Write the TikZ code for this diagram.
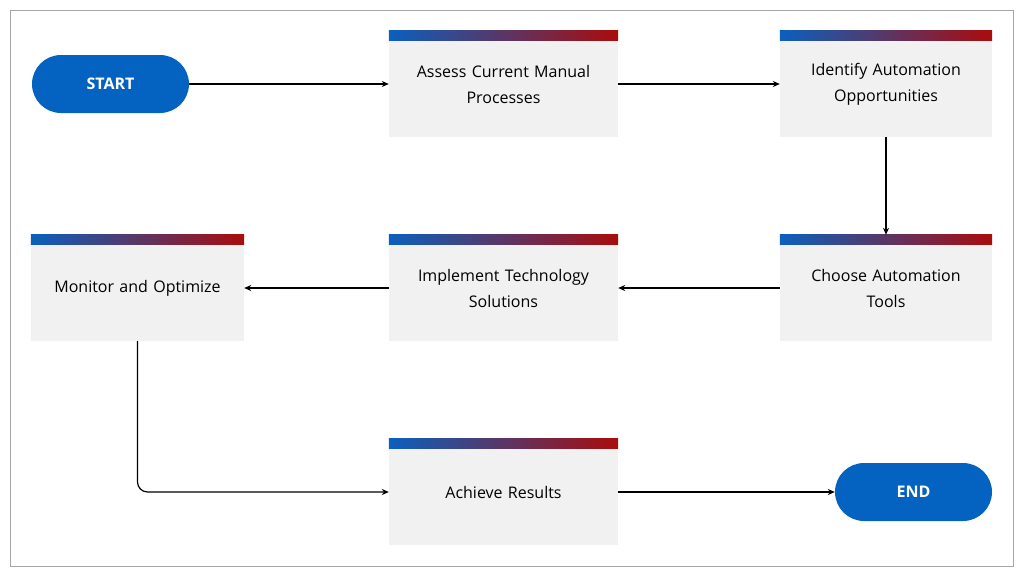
\documentclass[tikz,border=0pt]{standalone}
\usepackage{fontspec}
\setmainfont{Open Sans}
\usetikzlibrary{arrows.meta,positioning}
\definecolor{pillblue}{RGB}{4,98,192}
\definecolor{barblue}{RGB}{10,96,190}
\definecolor{barred}{RGB}{170,12,12}
\definecolor{boxgray}{RGB}{241,241,241}
\tikzset{
  stage/.style={fill=boxgray,minimum width=229pt,minimum height=106pt,align=center,font=\fontsize{16}{26}\selectfont,text width=215pt},
  pill/.style={fill=pillblue,rounded corners=29pt,minimum width=157pt,minimum height=58pt,text=white,font=\fontsize{16}{20}\selectfont\bfseries},
  flow/.style={-{Stealth[length=7pt,width=6pt]},line width=1.2pt}
}
\newcommand{\topbar}[1]{\shade[left color=barblue,right color=barred] (#1.north west) rectangle ([yshift=-10pt]#1.north east);}
\begin{document}
\begin{tikzpicture}[x=1pt,y=-1pt]
\useasboundingbox (0,0) rectangle (1024,576);
\draw[gray!70,line width=0.8pt] (10,10) rectangle (1013,566);

% first row
\node[pill] (start) at (110.5,84) {START};
\node[stage] (assess) at (503.5,84) {Assess Current Manual\\Processes};
\node[stage,minimum width=212pt,text width=200pt] (identify) at (886,84) {Identify Automation\\Opportunities};
% second row
\node[stage,minimum width=212pt,text width=200pt] (choose) at (886,288) {Choose Automation\\Tools};
\node[stage] (implement) at (503.5,288) {Implement Technology\\Solutions};
\node[stage,minimum width=213pt,text width=200pt] (monitor) at (137.5,288) {Monitor and Optimize};
% third row
\node[stage] (achieve) at (503.5,492) {Achieve Results};
\node[pill] (stop) at (913.5,492) {END};

\foreach \b in {assess,identify,choose,implement,monitor,achieve} {\topbar{\b}}

\draw[flow] (start) -- (assess);
\draw[flow] (assess) -- (identify);
\draw[flow] (identify) -- (choose);
\draw[flow] (choose) -- (implement);
\draw[flow] (implement) -- (monitor);
\draw[flow,rounded corners=10pt] (monitor.south) |- (achieve.west);
\draw[flow] (achieve) -- (stop);
\end{tikzpicture}
\end{document}
